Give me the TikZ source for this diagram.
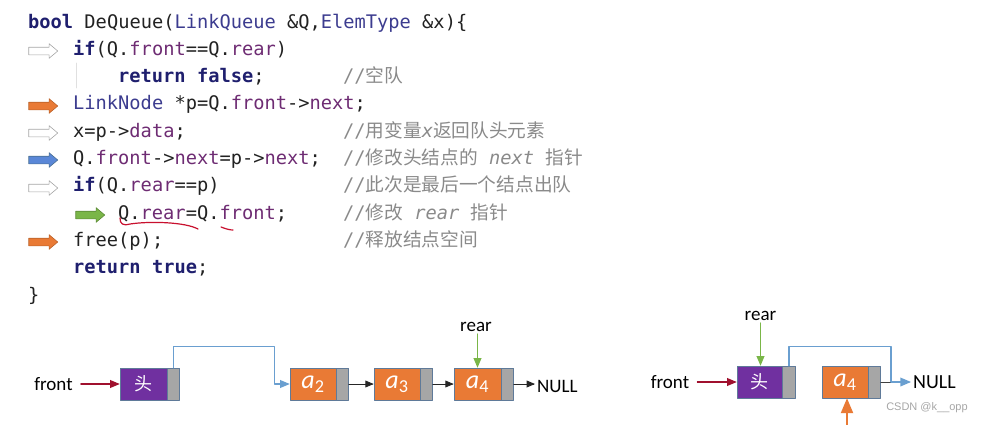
\documentclass[tikz,border=0pt]{standalone}
\usepackage{fontspec}
\setmainfont{Carlito}
\setmonofont{DejaVu Sans Mono}
\newfontfamily\cjk{Noto Sans CJK SC}
\newfontfamily\wmfont{Liberation Sans}
\usetikzlibrary{arrows}
\usetikzlibrary{shapes.arrows}
\usetikzlibrary{positioning}
\definecolor{kwblue}{HTML}{1F1F6E}
\definecolor{tyblue}{HTML}{3C3C8F}
\definecolor{mbpurple}{HTML}{6E2C73}
\definecolor{cmgray}{HTML}{8A8A8A}
\definecolor{txtblack}{HTML}{222222}
\definecolor{headpurple}{HTML}{7030A0}
\definecolor{nodeorange}{HTML}{E97A35}
\definecolor{ptrgray}{HTML}{A6A6A6}
\definecolor{boxedge}{HTML}{5F7A99}
\definecolor{linkblue}{HTML}{6A9FD0}
\definecolor{frontred}{HTML}{A0102E}
\definecolor{reargreen}{HTML}{7AB648}
\definecolor{squiggle}{HTML}{C8102E}
\newcommand{\codekw}[1]{{\bfseries\color{kwblue}#1}}
\newcommand{\codety}[1]{{\color{tyblue}#1}}
\newcommand{\codemb}[1]{{\color{mbpurple}#1}}
\newcommand{\elem}[1]{{\itshape a}\textsubscript{#1}}
\tikzset{
  codeline/.style={anchor=base west, inner sep=0, text=txtblack,
    font=\ttfamily\fontsize{18.7}{22}\selectfont},
  note/.style={codeline, text=cmgray},
  blockarr/.style={single arrow, minimum height=29, minimum width=14,
    text height=3.5pt, text depth=3.5pt, text width=0pt,
    single arrow head extend=3.5, single arrow tip angle=80, inner sep=0, line width=0.6pt},
  grayarr/.style={blockarr, draw=ptrgray, fill=white},
  orangearr/.style={blockarr, draw=nodeorange!80!black, fill=nodeorange},
  bluearr/.style={blockarr, draw=linkblue!70!black, fill=linkblue!85!blue},
  greenarr/.style={blockarr, draw=reargreen!75!black, fill=reargreen},
  databox/.style={draw=boxedge, line width=0.6pt, minimum width=47, minimum height=32,
    inner sep=0, text=white, font=\fontsize{26}{26}\selectfont},
  headbox/.style={databox, fill=headpurple, font=\cjk\fontsize{18}{18}\selectfont},
  ptrbox/.style={draw=boxedge, fill=ptrgray, line width=0.6pt, minimum width=12,
    minimum height=32, inner sep=0},
  lbl/.style={inner sep=2pt, text=black, font=\fontsize{19}{19}\selectfont},
  wm/.style={inner sep=0, text=black!35, font=\wmfont\fontsize{11}{11}\selectfont}
}

\begin{document}
\begin{tikzpicture}[line cap=round,line join=round,>=triangle 45,x=1pt,y=-1pt]
\useasboundingbox (0,0) rectangle (983,424);
% code
\node [codeline] (l1) at (28,28) {\codekw{bool} DeQueue(\codety{LinkQueue} \&Q,\codety{ElemType} \&x)\{};
\node [codeline] (l2) at (73,55.3) {\codekw{if}(Q.\codemb{front}==Q.\codemb{rear})};
\node [codeline] (l3) at (118,82.6) {\codekw{return} \codekw{false};};
\node [codeline] (l4) at (73,109.9) {\codety{LinkNode} *p=Q.\codemb{front}->\codemb{next};};
\node [codeline] (l5) at (73,137.2) {x=p->\codemb{data};};
\node [codeline] (l6) at (73,164.5) {Q.\codemb{front}->\codemb{next}=p->\codemb{next};};
\node [codeline] (l7) at (73,191.8) {\codekw{if}(Q.\codemb{rear}==p)};
\node [codeline] (l8) at (118,219.1) {Q.\codemb{rear}=Q.\codemb{front};};
\node [codeline] (l9) at (73,246.4) {free(p);};
\node [codeline] (l10) at (73,273.7) {\codekw{return} \codekw{true};};
\node [codeline] (l11) at (28,301) {\}};
% comments
\node [note] (c3) at (343,82.6) {//{\cjk 空队}};
\node [note] (c5) at (343,137.2) {//{\cjk 用变量}{\itshape x}{\cjk 返回队头元素}};
\node [note] (c6) at (343,164.5) {//{\cjk 修改头结点的} {\itshape next} {\cjk 指针}};
\node [note] (c7) at (343,191.8) {//{\cjk 此次是最后一个结点出队}};
\node [note] (c8) at (343,219.1) {//{\cjk 修改} {\itshape rear} {\cjk 指针}};
\node [note] (c9) at (343,246.4) {//{\cjk 释放结点空间}};
\draw [black!12, line width=0.8pt] (76,63)--(76,88);
% step markers
\node [grayarr] (s2) at (41,51) {};
\node [orangearr] (s4) at (41,106) {};
\node [grayarr] (s5) at (41,133) {};
\node [bluearr] (s6) at (41,160) {};
\node [grayarr] (s7) at (41,188) {};
\node [greenarr] (s8) at (88,215) {};
\node [orangearr] (s9) at (41,242) {};
% pen marks
\draw [squiggle, line width=1.2pt] (120,218) .. controls (120,224) and (123,226) .. (130,224)
  .. controls (150,221) and (185,222) .. (198,229);
\draw [squiggle, line width=1.2pt] (221,227) .. controls (226,229) and (230,230) .. (233,230);
% queue before
\node [lbl] (front1) at (53.5,384) {front};
\node [headbox] (h1) at (143.5,384) {头};
\node [ptrbox, right=0pt of h1] (h1p) {};
\node [databox, fill=nodeorange, minimum width=46] (n2) at (313,384) {\elem{2}};
\node [ptrbox, right=0pt of n2] (n2p) {};
\node [databox, fill=nodeorange, minimum width=46] (n3) at (397,384) {\elem{3}};
\node [ptrbox, right=0pt of n3] (n3p) {};
\node [databox, fill=nodeorange] (n4) at (477.5,384) {\elem{4}};
\node [ptrbox, right=0pt of n4] (n4p) {};
\node [lbl, anchor=west] (null1) at (535,386) {NULL};
\node [lbl] (rear1) at (476,327) {rear};
\draw [->, frontred, line width=1.2pt, shorten <=6pt] (front1) -- (h1);
\draw [->, linkblue, line width=1.2pt] (h1p.north) -- ++(0,-21) -| ([xshift=-15pt]n2.west) -- (n2.west);
\draw [->, black!85, line width=0.9pt] (n2p) -- (n3);
\draw [->, black!85, line width=0.9pt] (n3p) -- (n4);
\draw [->, black!85, line width=0.9pt] (n4p.east) -- (n4p.east -| null1.west);
\draw [->, reargreen, line width=1.2pt] (rear1.south -| n4.north) -- (n4.north);
% queue after
\node [lbl] (front2) at (670,382) {front};
\node [headbox, minimum width=45] (h2) at (759.5,382) {头};
\node [ptrbox, minimum width=13, right=0pt of h2] (h2p) {};
\node [databox, fill=nodeorange, minimum width=46] (m4) at (845,382) {\elem{4}};
\node [ptrbox, right=0pt of m4] (m4p) {};
\node [lbl, anchor=west, font=\fontsize{20}{20}\selectfont] (null2) at (911,382) {NULL};
\node [lbl] (rear2) at (760.5,316) {rear};
\node [wm] (csdn) at (927,408) {CSDN @k\_\_opp};
\coordinate (join) at (891,382);
\coordinate (pbot) at (847,428);
\draw [->, frontred, line width=1.2pt, shorten <=6pt] (front2) -- (h2);
\draw [->, reargreen, line width=1.2pt] (rear2.south) -- (rear2.south |- h2.north);
\draw [black!75, line width=1pt] (m4p) -- (join);
\draw [->, linkblue, line width=1.5pt] (h2p.north) -- ++(0,-19) -| (join) -- (null2);
\draw [->, nodeorange, line width=2.5pt] (pbot) -- (pbot |- m4.south);
\end{tikzpicture}
\end{document}
